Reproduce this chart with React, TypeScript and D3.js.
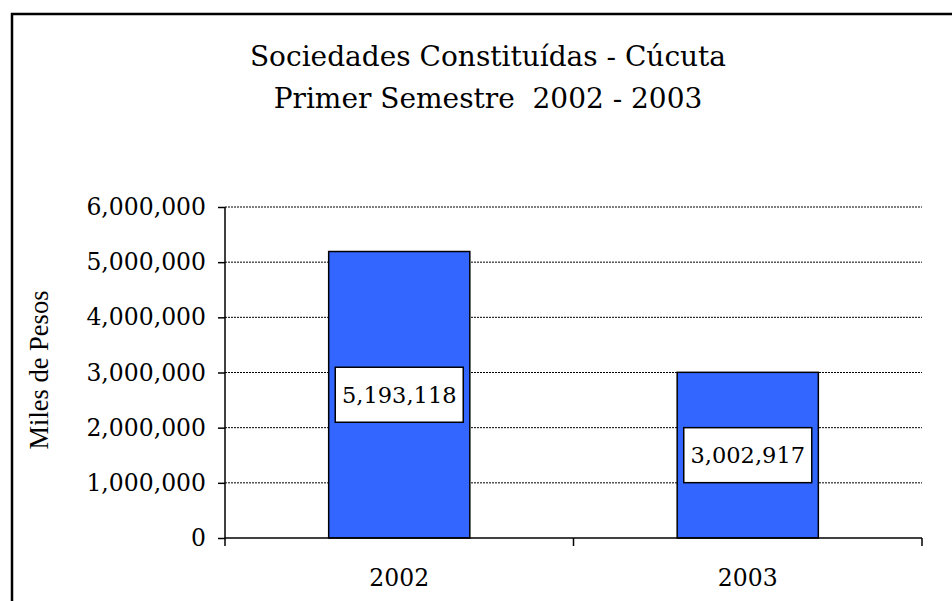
import React, { useEffect, useRef } from "react";
import * as d3 from "d3";

const years = ["2002", "2003"];
const values = [5193118, 3002917];
const yTicks = [0, 1000000, 2000000, 3000000, 4000000, 5000000, 6000000];
const titleLines = ["Sociedades Constituídas - Cúcuta", "Primer Semestre  2002 - 2003"];
const yTitle = "Miles de Pesos";

const W = 952;
const H = 601;
const serif = "'DejaVu Serif', serif";

const App = () => {
  const ref = useRef<SVGSVGElement>(null);

  useEffect(() => {
    const svg = d3.select(ref.current);
    svg.selectAll("*").remove();

    const left = 225;
    const right = 922;
    const top = 207;
    const bottom = 538;

    const x = d3
      .scaleBand()
      .domain(years)
      .range([left, right])
      .paddingInner(0.595)
      .paddingOuter(0.2975);

    const y = d3.scaleLinear().domain([0, 6000000]).range([bottom, top]);

    // outer frame
    svg
      .append("rect")
      .attr("x", 12)
      .attr("y", 14)
      .attr("width", W + 20)
      .attr("height", H + 20)
      .attr("fill", "white")
      .attr("stroke", "black")
      .attr("stroke-width", 2.5);

    // title
    svg
      .append("g")
      .selectAll("text")
      .data(titleLines)
      .join("text")
      .attr("x", 488)
      .attr("y", (d, i) => 66 + i * 42)
      .attr("text-anchor", "middle")
      .attr("font-family", serif)
      .attr("font-size", 28)
      .style("white-space", "pre")
      .text((d) => d);

    // gridlines
    svg
      .append("g")
      .selectAll("line")
      .data(yTicks.filter((d) => d > 0))
      .join("line")
      .attr("x1", left)
      .attr("x2", right)
      .attr("y1", (d) => y(d))
      .attr("y2", (d) => y(d))
      .attr("stroke", "black")
      .attr("stroke-width", 1)
      .attr("stroke-dasharray", "2,1");

    // bars
    svg
      .append("g")
      .selectAll("rect")
      .data(values)
      .join("rect")
      .attr("x", (d, i) => x(years[i]))
      .attr("y", (d) => y(d))
      .attr("width", x.bandwidth())
      .attr("height", (d) => bottom - y(d))
      .attr("fill", "#3366FF")
      .attr("stroke", "black")
      .attr("stroke-width", 1.5);

    // y axis
    const yAxis = svg
      .append("g")
      .attr("transform", `translate(${left},0)`)
      .call(
        d3
          .axisLeft(y)
          .tickValues(yTicks)
          .tickSize(7)
          .tickPadding(12)
          .tickFormat(d3.format(","))
      );
    yAxis.select(".domain").remove();
    yAxis.selectAll("line").attr("stroke", "black").attr("stroke-width", 1.5);
    yAxis
      .selectAll("text")
      .attr("font-family", serif)
      .attr("font-size", 23.5)
      .attr("fill", "black");
    yAxis
      .append("line")
      .attr("x1", 0)
      .attr("x2", 0)
      .attr("y1", top)
      .attr("y2", bottom + 8)
      .attr("stroke", "black")
      .attr("stroke-width", 1.5);

    // x axis
    const xg = svg.append("g");
    xg.append("line")
      .attr("x1", left)
      .attr("x2", right)
      .attr("y1", bottom)
      .attr("y2", bottom)
      .attr("stroke", "black")
      .attr("stroke-width", 1.5);
    const bounds = years.map((yr) => x(yr) - (x.step() * x.paddingInner()) / 2 + x.step());
    xg.selectAll(".tk")
      .data(bounds)
      .join("line")
      .attr("class", "tk")
      .attr("x1", (d) => d)
      .attr("x2", (d) => d)
      .attr("y1", bottom)
      .attr("y2", bottom + 8)
      .attr("stroke", "black")
      .attr("stroke-width", 1.5);
    xg.selectAll("text")
      .data(years)
      .join("text")
      .attr("x", (d) => x(d) + x.bandwidth() / 2)
      .attr("y", 586)
      .attr("text-anchor", "middle")
      .attr("font-family", serif)
      .attr("font-size", 23.5)
      .text((d) => d);

    // y title
    svg
      .append("text")
      .attr("transform", `translate(48,370) rotate(-90)`)
      .attr("text-anchor", "middle")
      .attr("font-family", "'Liberation Serif', serif")
      .attr("font-size", 26.5)
      .text(yTitle);

    // data labels
    const labels = svg
      .append("g")
      .selectAll("g")
      .data(values)
      .join("g")
      .attr(
        "transform",
        (d, i) => `translate(${x(years[i]) + x.bandwidth() / 2},${(y(d) + bottom) / 2})`
      );
    labels
      .append("rect")
      .attr("x", -64)
      .attr("y", -27.5)
      .attr("width", 128)
      .attr("height", 55)
      .attr("fill", "white")
      .attr("stroke", "black")
      .attr("stroke-width", 1.5);
    labels
      .append("text")
      .attr("text-anchor", "middle")
      .attr("dy", "0.36em")
      .attr("font-family", serif)
      .attr("font-size", 22.5)
      .text((d) => d3.format(",")(d));
  }, []);

  return (
    <svg
      ref={ref}
      width={W}
      height={H}
      style={{ position: "absolute", left: 0, top: 0, background: "white" }}
    ></svg>
  );
};

export default App;
